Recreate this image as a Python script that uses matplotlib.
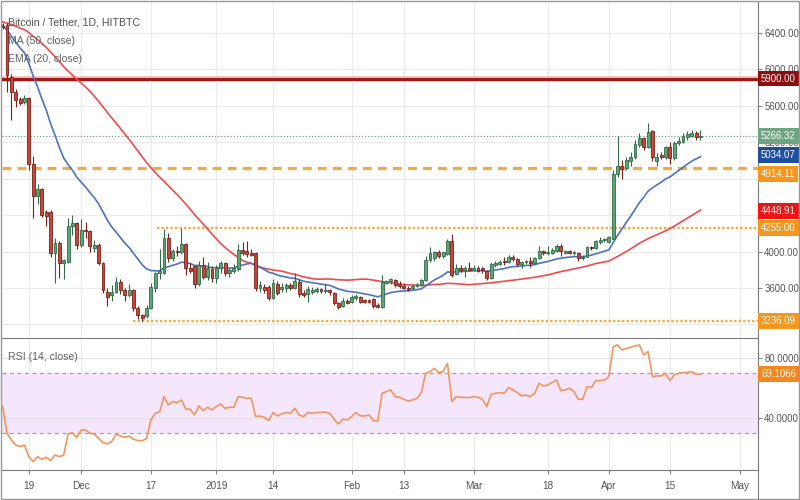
import matplotlib
matplotlib.use('Agg')
import matplotlib.pyplot as plt
import matplotlib.dates as mdates
import numpy as np
import pandas as pd

plt.rcParams['font.family'] = ['Liberation Sans', 'DejaVu Sans']

# ---------------- data ----------------
start_date = '2018-11-13'
# closes before the visible window (warm-up for MA/EMA)
prior_closes = [6550, 6520, 6660, 6600, 6540, 6590,
                6600, 6540, 6480, 6580, 6620, 6560, 6590, 6720, 6660, 6560,
                6310, 6330, 6340, 6360,
                6820, 6700, 6650, 6560, 6530, 6540,
                6550, 6540, 6530, 6520, 6510, 6520, 6515, 6500, 6330, 6350, 6390,
                6410, 6440, 6420, 6600, 6520, 6560, 6600, 6480, 6430, 6450, 6460, 6440]

open_ = [6480, 6488, 5917, 5751, 5678, 5640, 5685, 4960, 4610, 4684, 4430, 4433, 3983, 4094, 3873,
         3890, 4278, 4315, 4072, 4242, 4223, 4040, 4075, 3870, 3560, 3523, 3560, 3671, 3579, 3523,
         3579, 3376, 3303, 3290, 3383, 3600, 3763, 3763, 4150, 3928, 4010, 3990, 4079, 3815, 3837,
         3641, 3855, 3726, 3811, 3707, 3818, 3873, 3770, 3789, 3811, 4021, 4002, 3983, 3983, 3597,
         3615, 3615, 3494, 3645, 3585, 3597, 3634, 3597, 3671, 3549, 3531, 3560, 3570, 3585, 3565,
         3575, 3549, 3438, 3405, 3460, 3450, 3490, 3505, 3470, 3465, 3479, 3413, 3394, 3660, 3672,
         3693, 3640, 3627, 3605, 3595, 3620, 3634, 3690, 3910, 3930, 3995, 3950, 3970, 4120, 3752,
         3825, 3800, 3820, 3800, 3818, 3815, 3789, 3707, 3855, 3862, 3897, 3880, 3945, 3917, 3862,
         3880, 3895, 3870, 3928, 4002, 3980, 3983, 4002, 4057, 3985, 4002, 3980, 3983, 3930, 3945,
         4046, 4035, 4108, 4125, 4108, 4143, 4850, 4941, 4919, 4997, 5034, 5170, 5243, 5151, 5320,
         4995, 5060, 5040, 5144, 5026, 5188, 5207, 5262, 5273, 5298, 5262]
high = [6510, 6505, 5950, 5790, 5700, 5720, 5700, 5052, 4742, 4700, 4460, 4460, 4150, 4120, 3920,
        4370, 4400, 4330, 4356, 4320, 4240, 4130, 4090, 3890, 3600, 3630, 3720, 3700, 3600, 3640,
        3590, 3400, 3320, 3410, 3650, 3780, 4024, 4245, 4200, 4030, 4060, 4260, 4090, 3870, 3850,
        3900, 3940, 3880, 3840, 3850, 3900, 3880, 3820, 3860, 4080, 4100, 4120, 4030, 4000, 3680,
        3640, 3630, 3700, 3680, 3660, 3660, 3650, 3760, 3700, 3580, 3620, 3610, 3610, 3600, 3640,
        3590, 3560, 3450, 3490, 3480, 3520, 3530, 3515, 3480, 3480, 3490, 3430, 3748, 3690, 3710,
        3700, 3680, 3660, 3620, 3640, 3660, 3700, 3950, 4050, 4010, 4020, 4000, 4140, 4193, 3860,
        3850, 3840, 3880, 3850, 3840, 3830, 3800, 3880, 3900, 3910, 3940, 3960, 3960, 3930, 3900,
        3910, 3940, 3940, 4060, 4020, 4060, 4040, 4080, 4080, 4020, 4020, 4010, 4000, 3965, 4060,
        4060, 4130, 4160, 4150, 4170, 4900, 5273, 5000, 5040, 5090, 5220, 5300, 5260, 5409, 5330,
        5080, 5090, 5160, 5200, 5210, 5260, 5300, 5320, 5340, 5320, 5340]
low = [6440, 5751, 5439, 5586, 5610, 5615, 4900, 4370, 4520, 4380, 4280, 3940, 3652, 3707, 3700,
       3870, 4180, 4030, 4050, 4150, 3990, 3990, 3850, 3550, 3400, 3460, 3540, 3530, 3460, 3500,
       3350, 3260, 3236, 3270, 3370, 3560, 3700, 3750, 3880, 3900, 3950, 3970, 3740, 3760, 3600,
       3620, 3700, 3690, 3670, 3650, 3760, 3730, 3720, 3760, 3790, 3960, 3940, 3950, 3570, 3560,
       3540, 3470, 3480, 3520, 3560, 3560, 3580, 3590, 3500, 3500, 3450, 3530, 3540, 3540, 3550,
       3520, 3410, 3370, 3390, 3420, 3430, 3470, 3430, 3430, 3440, 3380, 3380, 3380, 3640, 3640,
       3610, 3600, 3590, 3570, 3580, 3610, 3620, 3680, 3880, 3900, 3930, 3930, 3960, 3720, 3740,
       3780, 3720, 3790, 3790, 3780, 3770, 3690, 3700, 3830, 3850, 3850, 3870, 3900, 3840, 3820,
       3860, 3830, 3860, 3920, 3960, 3960, 3970, 3990, 3950, 3970, 3975, 3960, 3900, 3910, 3935,
       4020, 4025, 4080, 4110, 4095, 4135, 4820, 4794, 4900, 4940, 5020, 5150, 5120, 5140, 4990,
       4940, 5020, 5020, 4960, 5010, 5170, 5190, 5230, 5260, 5230, 5230]
close = [6470, 5936, 5751, 5660, 5630, 5685, 4960, 4610, 4684, 4400, 4390, 3983, 4094, 3873, 3910,
         4278, 4315, 4072, 4242, 4223, 4057, 4075, 3870, 3579, 3505, 3560, 3671, 3579, 3523, 3579,
         3376, 3303, 3273, 3383, 3615, 3763, 3785, 4150, 3928, 4010, 3990, 4079, 3815, 3790, 3641,
         3855, 3726, 3818, 3715, 3818, 3873, 3763, 3800, 3818, 4021, 3983, 3972, 3961, 3597, 3634,
         3579, 3494, 3652, 3549, 3615, 3634, 3605, 3678, 3531, 3523, 3586, 3580, 3590, 3565, 3578,
         3555, 3431, 3394, 3460, 3440, 3505, 3510, 3450, 3450, 3450, 3402, 3391, 3671, 3678, 3695,
         3634, 3625, 3605, 3590, 3620, 3640, 3690, 3910, 3983, 3995, 3950, 3990, 4120, 3745, 3825,
         3800, 3822, 3800, 3825, 3792, 3795, 3707, 3862, 3873, 3885, 3880, 3945, 3917, 3862, 3890,
         3895, 3870, 3928, 4002, 3980, 3995, 4021, 4057, 4002, 4002, 3985, 3995, 3928, 3945, 4046,
         4035, 4113, 4132, 4138, 4157, 4850, 4941, 4905, 5004, 5041, 5181, 5243, 5151, 5310, 5033,
         5040, 5040, 5144, 5022, 5188, 5210, 5273, 5292, 5298, 5262, 5266.32]

rsi = [47.6,
       29.8, 25.3, 22, 20.9, 22, 14.2, 10.9, 14.2, 12.4, 13.8, 11.6, 15.3, 14.2, 15.3,
       29.3, 30.2, 26.9, 32, 32, 29.8, 29.3, 26.4, 23.6, 22.7, 24.2, 29.1, 28, 27.1, 28, 25.8,
       24.9, 24.9, 26.2,
       38.7, 43.1, 44.2, 54.2, 48.7, 50.9, 50.2, 52, 45.8, 45.8, 42, 48, 44.9, 47.1, 45.3, 47.6,
       49.3, 46.4, 47.1, 47.1,
       54.2, 53.8, 53.1, 53.1, 40.9, 41.3, 40.4, 38.2, 43.6, 41.3, 42.7, 43.6, 43.1, 46.4, 42,
       40.9, 43.6, 43.1, 43.6, 43.8, 43.8, 43.1, 39.1, 36, 39.1, 38.7, 40.9, 43.6, 41.5,
       41.3, 42, 38.2, 38, 56.4, 57.6, 58.7, 54.2, 53.8, 52.4, 51.3, 52, 53.1, 56.9, 69.8, 70.9,
       73.1, 70.2, 70.9, 76.4,
       50.9, 54.2, 53.8, 53.6, 53.6, 54.2, 53.8, 52.4, 47.6, 55.8, 56.4, 56.9, 56.4, 60.2, 58.7,
       56.9, 54.7, 55.3, 54.2, 56.4, 63.1, 61.3, 62, 63.6, 65.3, 58.2, 58.7, 59.8, 57.6, 52.4,
       52.4, 60.9, 60.2, 64.9, 64.9, 65.3, 67.6,
       87.6, 88.7, 85.3, 86.4, 87.1, 88, 88.7, 82, 84.2, 67.6, 68, 68, 69.8, 64.9, 68.7, 69.8,
       70.2, 70.4, 70.9, 69.3, 69.1066]

tick_dates = ['2018-11-19', '2018-12-01', '2018-12-17', '2019-01-01', '2019-01-14', '2019-02-01',
              '2019-02-13', '2019-03-01', '2019-03-18', '2019-04-01', '2019-04-15', '2019-05-01']
tick_labels = ['19', 'Dec', '17', '2019', '14', 'Feb', '13', 'Mar', '18', 'Apr', '15', 'May']

price_ticks = [3200, 3600, 4000, 4400, 4800, 5200, 5600, 6000, 6400]
# tick labels fully hidden behind the price tags in the reference
hidden_price_ticks = [3200, 4400, 4800]
rsi_ticks = [40, 80]

last_price = 5266.32
ema_last = 5034.07
ma_last = 4448.91
rsi_last = 69.1066
levels = [5900.00, 4914.11, 4255.00, 3236.09]
level_starts = [None, None, '2018-12-18 09:00', '2018-12-12 21:00']

# ---------------- derived ----------------
dates = pd.date_range(start_date, periods=len(close), freq='D')
x = mdates.date2num(dates)
o = np.array(open_, float)
c = np.array(close, float)
h = np.array(high, float)
l = np.array(low, float)
hist = pd.Series(prior_closes + close, dtype=float)
ema20 = hist.ewm(span=20, adjust=False).mean().iloc[len(prior_closes):].values
ma50 = hist.rolling(50).mean().iloc[len(prior_closes):].values

# ---------------- figure ----------------
fig = plt.figure(figsize=(8, 5), dpi=100)
ax = fig.add_axes([2 / 800, 163 / 500, 756 / 800, 335 / 500])
rax = fig.add_axes([2 / 800, 30 / 500, 756 / 800, 132 / 500], sharex=ax)

x0 = mdates.date2num(pd.Timestamp('2018-11-14'))
ax.set_xlim(x0 - 1.15, x0 + 172.2)
ax.set_ylim(3062, 6740)
rax.set_ylim(5.3, 93.3)

grid_c = '#ebebeb'
tick_x = mdates.date2num(pd.to_datetime(tick_dates))
for a in (ax, rax):
    for tx in tick_x:
        a.axvline(tx, color=grid_c, lw=0.8, zorder=0)
for pt in price_ticks:
    ax.axhline(pt, color=grid_c, lw=0.8, zorder=0)

# level lines
ax.axhline(levels[0], color='#f3b9b9', lw=4.0, zorder=1)
ax.axhline(levels[0], color='#a31818', lw=2.2, zorder=1.1)
ax.axhline(levels[1], color='#f9a83a', lw=2.3, ls=(0, (2.8, 1.9)), zorder=1)
xr = ax.get_xlim()[1]
for lv, st in zip(levels[2:], level_starts[2:]):
    ax.hlines(lv, mdates.date2num(pd.Timestamp(st)), xr, color='#f9a83a', lw=1.7,
              linestyles=(0, (1, 0.9)), zorder=1)
ax.axhline(last_price, color='#6fa583', lw=0.9, ls=(0, (1, 1.5)), zorder=1)

# moving averages
ax.plot(x, ma50, color='#ee4c4c', lw=1.2, zorder=2)
ax.plot(x, ema20, color='#4c72c2', lw=1.2, zorder=2)

# candles
up = c >= o
fc = np.where(up, '#5da676', '#c9463a')
ec = np.where(up, '#2f6b47', '#7a2118')
ax.vlines(x, l, h, colors=ec, lw=0.8, zorder=3)
body = np.maximum(np.abs(c - o), 7)
ax.bar(x, body, bottom=np.minimum(o, c), width=0.66, color=fc, edgecolor=ec, linewidth=0.6, zorder=4)

# RSI pane
rax.axhspan(30, 70, color='#f4e6fd', zorder=0)
for rt in rsi_ticks:
    rax.axhline(rt, color='#e6e0ea', lw=0.8, zorder=0.5)
for lv in (30, 70):
    rax.axhline(lv, color='#a8a0ae', lw=0.9, ls=(0, (3, 3)), zorder=1)
rax.plot(x, rsi, color='#f5955a', lw=1.2, zorder=3)

# axes styling
FS = 6.9
for a in (ax, rax):
    a.yaxis.tick_right()
    for s in ('top', 'left', 'bottom'):
        a.spines[s].set_visible(False)
    a.spines['right'].set_color('#7a7a7a')
    a.tick_params(axis='y', direction='out', length=3, width=0.8, color='#888888',
                  labelsize=FS, labelcolor='#555555', pad=1.5)
ax.set_yticks(price_ticks)
ax.set_yticklabels(['' if v in hidden_price_ticks else '%.2f' % v for v in price_ticks])
rax.set_yticks(rsi_ticks)
rax.set_yticklabels(['%.4f' % v for v in rsi_ticks])
ax.tick_params(axis='x', bottom=False, labelbottom=False)
rax.spines['bottom'].set_visible(True)
rax.spines['bottom'].set_color('#7a7a7a')
rax.spines['top'].set_visible(True)
rax.spines['top'].set_color('#7a7a7a')
rax.set_xticks(tick_x)
rax.set_xticklabels(tick_labels)
rax.tick_params(axis='x', direction='out', length=3, width=0.8, color='#888888',
                labelsize=7.2, labelcolor='#555555', pad=5)

# price labels on the right
def tag(a, val, txt, fc, dy=0):
    a.annotate(txt, xy=(1, val), xycoords=('axes fraction', 'data'),
               xytext=(2.2, dy), textcoords='offset points', va='center', ha='left',
               fontsize=FS, color='white', annotation_clip=False, zorder=10,
               bbox=dict(boxstyle='square,pad=0.3', fc=fc, ec='none'))

tag(ax, levels[0], '%.2f' % levels[0], '#8f0d0d')
tag(ax, last_price, '%.2f' % last_price, '#6da582')
tag(ax, ema_last, '%.2f' % ema_last, '#1f4e9e', dy=1.6)
tag(ax, levels[1], '%.2f' % levels[1], '#f7961c', dy=-4.0)
tag(ax, ma_last, '%.2f' % ma_last, '#f21414')
tag(ax, levels[2], '%.2f' % levels[2], '#f7961c')
tag(ax, levels[3], '%.2f' % levels[3], '#f7961c')
tag(rax, rsi_last, '%.4f' % rsi_last, '#f7861c')

# legend texts
LFS = 7.6
ax.text(0.008, 0.94, 'Bitcoin / Tether, 1D, HITBTC', transform=ax.transAxes,
        fontsize=LFS, color='#505050', va='center', ha='left', zorder=6)
ax.text(0.008, 0.885, 'MA (50, close)', transform=ax.transAxes,
        fontsize=LFS, color='#606060', va='center', ha='left', zorder=6)
ax.text(0.008, 0.83, 'EMA (20, close)', transform=ax.transAxes,
        fontsize=LFS, color='#606060', va='center', ha='left', zorder=6)
rax.text(0.008, 0.858, 'RSI (14, close)', transform=rax.transAxes,
         fontsize=LFS, color='#606060', va='center', ha='left', zorder=6)

# outer frame
fig.add_artist(plt.Rectangle((0.001, 0.003), 0.998, 0.995, transform=fig.transFigure,
                             fill=False, ec='#9a9a9a', lw=1.0))
fig.add_artist(plt.Line2D([758 / 800, 758 / 800], [0.003, 30 / 500], transform=fig.transFigure,
                          color='#7a7a7a', lw=0.8))

fig.savefig('out.png', dpi=100)
